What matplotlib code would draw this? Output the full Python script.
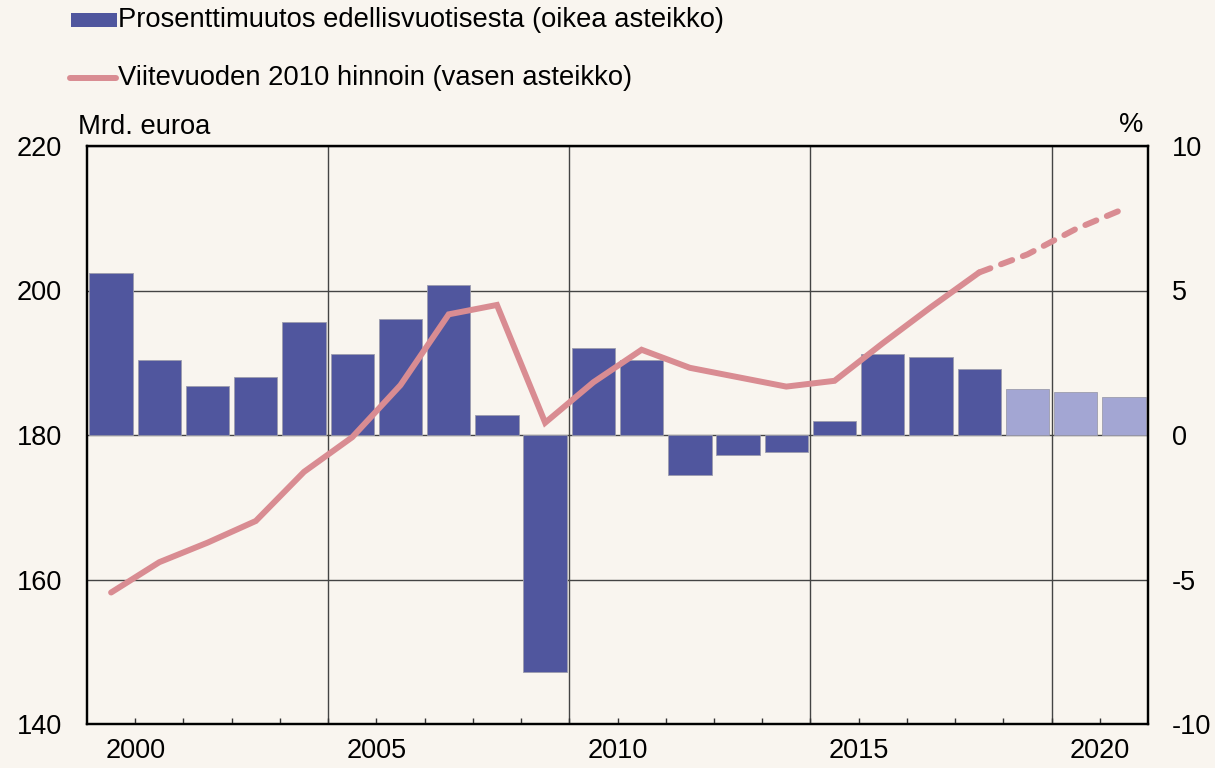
import matplotlib.pyplot as plt
from matplotlib.patches import Rectangle
from matplotlib.lines import Line2D

# ==============================
# Data
# ==============================
years = list(range(2000, 2022))
pct_change = [5.6, 2.6, 1.7, 2.0, 3.9, 2.8, 4.0, 5.2, 0.7, -8.2, 3.0,
              2.6, -1.4, -0.7, -0.6, 0.5, 2.8, 2.7, 2.3, 1.6, 1.5, 1.3]
gdp_2010 = [158.2, 162.4, 165.1, 168.1, 174.9, 179.7, 186.9, 196.7, 198.0, 181.7, 187.3,
            191.8, 189.3, 188.0, 186.7, 187.5, 192.7, 197.7, 202.5, 205.0, 208.5, 211.3]
first_forecast = 2019

left_ticks = [140, 160, 180, 200, 220]
right_ticks = [-10, -5, 0, 5, 10]
label_years = [2000, 2005, 2010, 2015, 2020]
grid_years = [2005, 2010, 2015, 2020]

bg = "#F9F5EF"
dark = "#50569E"
light = "#A3A6D3"
pink = "#D98C92"

plt.rcParams["font.family"] = ["Liberation Sans", "DejaVu Sans"]
plt.rcParams["axes.unicode_minus"] = False

fig = plt.figure(figsize=(12.15, 7.68), dpi=100, facecolor=bg)
ax = fig.add_axes([87 / 1215, 1 - 724 / 768, (1148 - 87) / 1215, (724 - 146) / 768])
ax2 = ax.twinx()
ax.set_zorder(ax2.get_zorder() + 1)
ax.patch.set_visible(False)
ax2.set_facecolor(bg)

# bars (right axis)
colors = [light if y >= first_forecast else dark for y in years]
ax2.bar(years, pct_change, width=0.9, color=colors, edgecolor="#9c9cad", linewidth=0.6, zorder=3)
ax2.set_ylim(-10, 10)
ax2.set_yticks(right_ticks)
ax2.yaxis.grid(True, color="#444444", linewidth=1.0, zorder=0)
ax2.set_axisbelow(True)
for g in grid_years:
    ax2.axvline(g - 0.5, color="#444444", linewidth=1.0, zorder=0.5)

# line (left axis)
n_solid = years.index(first_forecast)
ax.plot(years[:n_solid], gdp_2010[:n_solid], color=pink, linewidth=4.3,
        solid_capstyle="round", solid_joinstyle="miter", zorder=5)
ax.plot(years[n_solid - 1:], gdp_2010[n_solid - 1:], color=pink, linewidth=4.3,
        linestyle=(0, (2.0, 1.9)), dash_capstyle="round", zorder=5)
ax.set_ylim(140, 220)
ax.set_yticks(left_ticks)
ax.set_xlim(years[0] - 0.5, years[-1] + 0.5)

# x ticks: labels at end of labelled year, small inward ticks at year boundaries
ax.set_xticks([y + 0.5 for y in label_years])
ax.set_xticklabels([str(y) for y in label_years])
ax.set_xticks([y + 0.5 for y in years[:-1] if y not in label_years], minor=True)
ax.tick_params(axis="x", which="both", direction="in", length=4.5, width=1, color="#333333",
               labelsize=19.5, pad=10)
ax.tick_params(axis="y", length=0, labelsize=19.5, pad=18)
ax2.tick_params(axis="y", length=0, labelsize=19.5, pad=17)
ax2.tick_params(axis="x", length=0)

for a in (ax, ax2):
    for s in a.spines.values():
        s.set_linewidth(1.6)
        s.set_color("black")

# ==============================
# Texts and legend
# ==============================
fig.text(78 / 1215, 1 - 127 / 768, "Mrd. euroa", fontsize=19.7, va="center", ha="left")
fig.text(1143 / 1215, 1 - 125 / 768, "%", fontsize=19.7, va="center", ha="right")

fig.add_artist(Rectangle((71 / 1215, 1 - 27 / 768), 46 / 1215, 14 / 768,
                         transform=fig.transFigure, facecolor=dark, edgecolor="none"))
fig.text(118 / 1215, 1 - 20 / 768, "Prosenttimuutos edellisvuotisesta (oikea asteikko)",
         fontsize=19.7, va="center", ha="left")
fig.add_artist(Line2D([70 / 1215, 116 / 1215], [1 - 78 / 768, 1 - 78 / 768],
                      transform=fig.transFigure, color=pink, linewidth=4.3,
                      solid_capstyle="round"))
fig.text(118 / 1215, 1 - 78 / 768, "Viitevuoden 2010 hinnoin (vasen asteikko)",
         fontsize=19.7, va="center", ha="left")

fig.savefig("out.png", dpi=100, facecolor=bg)
